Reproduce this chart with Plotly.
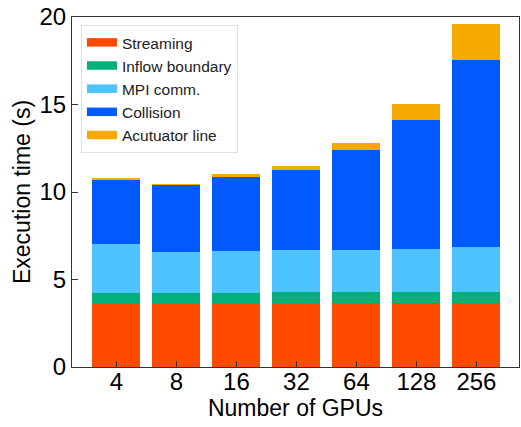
import plotly.graph_objects as go

gpus = ["4", "8", "16", "32", "64", "128", "256"]
streaming = [3.62, 3.62, 3.62, 3.63, 3.63, 3.63, 3.63]
inflow = [0.61, 0.61, 0.61, 0.64, 0.64, 0.64, 0.66]
mpi = [2.80, 2.36, 2.40, 2.42, 2.42, 2.46, 2.55]
collision = [3.70, 3.81, 4.28, 4.57, 5.69, 7.40, 10.72]
actuator = [0.04, 0.04, 0.10, 0.21, 0.42, 0.90, 2.04]

series = [
    ("Streaming", streaming, "#FF4B00"),
    ("Inflow boundary", inflow, "#03AF7A"),
    ("MPI comm.", mpi, "#4DC4FF"),
    ("Collision", collision, "#005AFF"),
    ("Acutuator line", actuator, "#F6AA00"),
]

fig = go.Figure()
for name, vals, color in series:
    fig.add_trace(go.Bar(
        x=gpus, y=vals, name=name, marker_color=color,
        marker_line_width=0, width=0.8, showlegend=False,
    ))
for name, vals, color in series:
    fig.add_trace(go.Scatter(
        x=[None], y=[None], mode="lines", name=name, fill="toself",
        fillcolor=color,
        line=dict(color=color, width=5), showlegend=True,
    ))

font = "Liberation Sans, Arial, sans-serif"
fig.update_layout(
    barmode="stack",
    width=521, height=427,
    margin=dict(l=72, r=2, t=17, b=60, autoexpand=False),
    paper_bgcolor="white", plot_bgcolor="white",
    font=dict(family=font, color="black"),
    legend=dict(
        x=0.02, y=0.977, xanchor="left", yanchor="top",
        font=dict(size=15.5, family=font, color="#222"),
        bordercolor="#e0e0e0", borderwidth=1, bgcolor="white",
        tracegroupgap=0, itemwidth=30, traceorder="normal",
    ),
    xaxis=dict(
        type="category", range=[-0.74, 6.71], automargin=False,
        showline=True, linecolor="#333", linewidth=1.2, mirror=True,
        ticks="inside", ticklen=6, tickcolor="#333",
        tickfont=dict(size=24), showgrid=False, ticklabelstandoff=-7,
        title=dict(text="Number of GPUs", font=dict(size=23), standoff=0),
    ),
    yaxis=dict(
        range=[0, 20], tickvals=[0, 5, 10, 15, 20], automargin=False,
        showline=True, linecolor="#333", linewidth=1.2, mirror=True,
        ticks="inside", ticklen=6, tickcolor="#333",
        tickfont=dict(size=24), showgrid=False, zeroline=False,
        title=dict(text="Execution time (s)", font=dict(size=23), standoff=2),
    ),
)
fig.write_html(
    "out.html",
    config={"displayModeBar": False},
    post_script="document.body.style.margin='0px';document.body.style.overflow='hidden';",
)
